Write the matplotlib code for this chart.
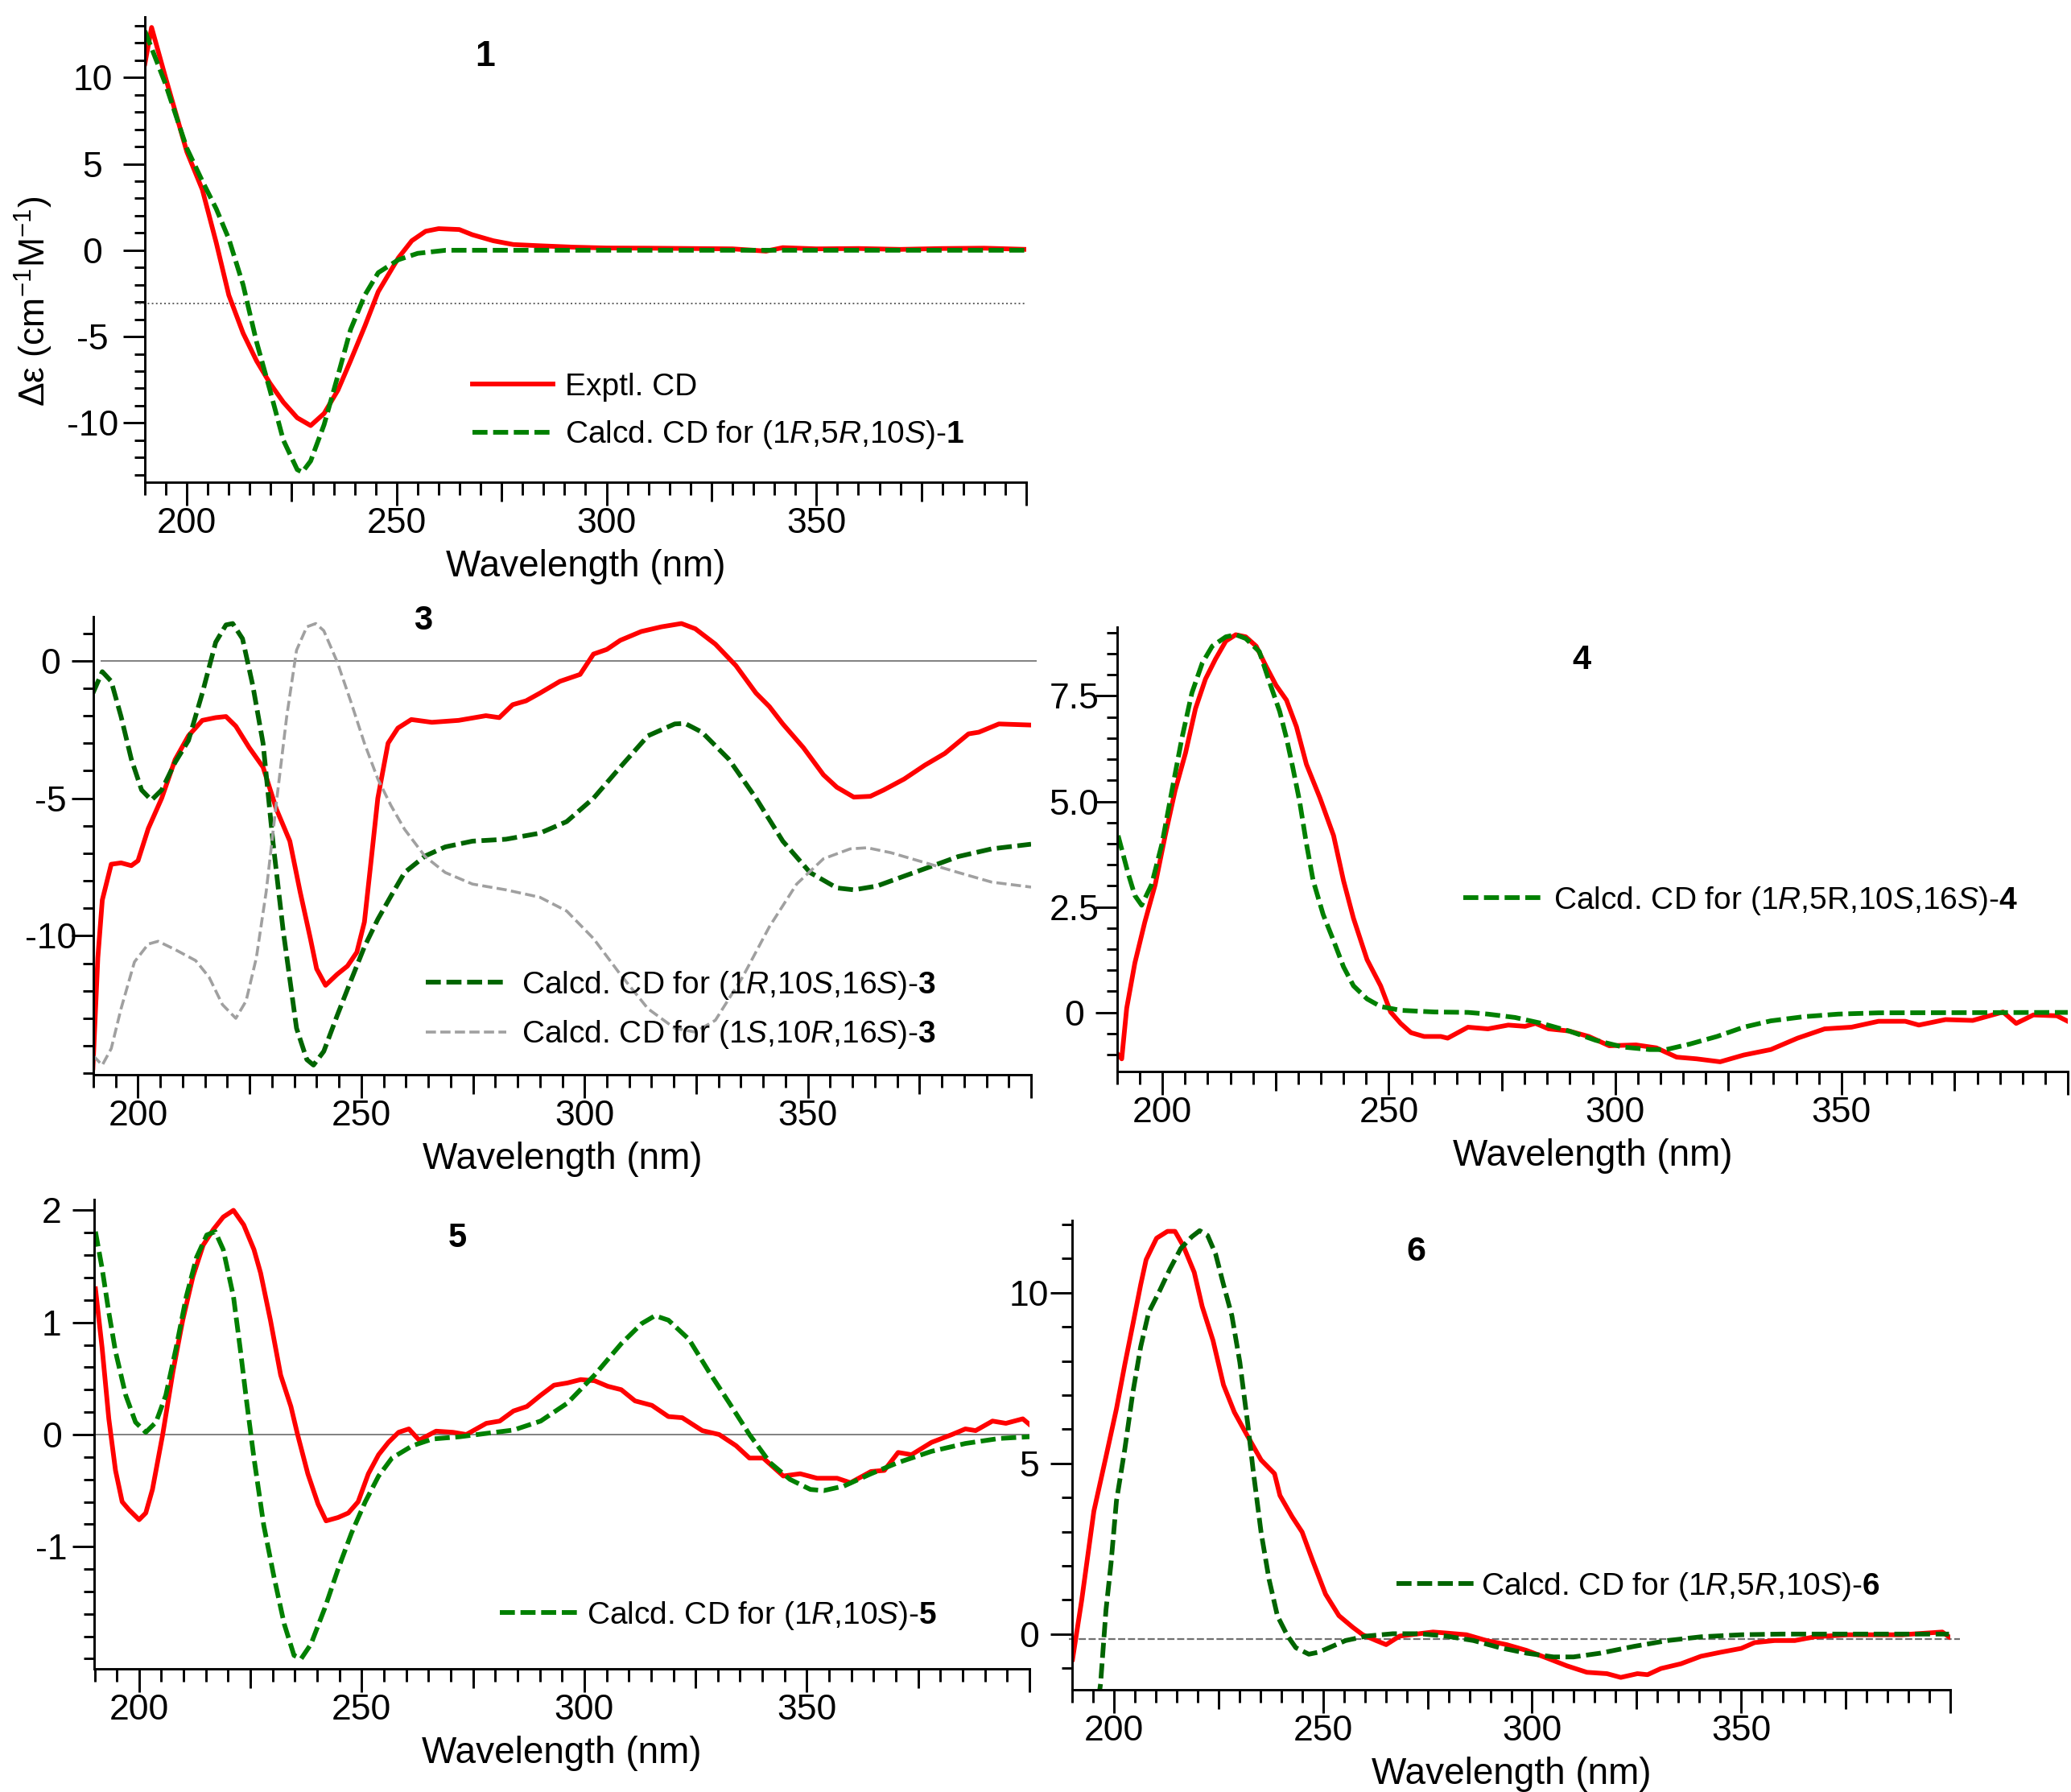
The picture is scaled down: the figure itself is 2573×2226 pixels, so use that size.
import matplotlib
matplotlib.use("Agg")
import matplotlib.pyplot as plt

plt.rcParams['font.family'] = 'Liberation Sans'
plt.rcParams['mathtext.fontset'] = 'custom'
plt.rcParams['mathtext.rm'] = 'Liberation Sans'
plt.rcParams['mathtext.it'] = 'Liberation Sans:italic'
plt.rcParams['mathtext.bf'] = 'Liberation Sans:bold'

RED = '#ff0000'
GREEN = '#008000'
DKGREEN = '#006400'
GRAY = '#a0a0a0'
DASH = (0, (3.2, 1.2))

# ---- compound 1 ----
wl1_exp = [190, 191.6, 194.8, 200, 203.7, 207, 210, 213.4, 216.6, 219.8, 223, 226.3, 229.5, 232.7,
           236, 239, 242.4, 245.6, 250.4, 253.6, 256.9, 260, 264.9, 268, 273, 277.8, 284, 292,
           300, 310, 320, 330, 338, 342, 350, 360, 370, 380, 390, 400]
cd1_exp = [10.8, 12.9, 10.1, 5.7, 3.5, 0.44, -2.6, -4.8, -6.4, -7.7, -8.8, -9.7, -10.15, -9.45,
           -8.1, -6.4, -4.4, -2.4, -0.44, 0.55, 1.1, 1.25, 1.2, 0.9, 0.55, 0.33, 0.26, 0.18,
           0.13, 0.12, 0.1, 0.08, -0.05, 0.15, 0.08, 0.1, 0.05, 0.1, 0.12, 0.05]
wl1_calc = [190, 194.8, 200, 203.7, 207, 210, 213.4, 216.6, 219.8, 223, 226.3, 227.5, 229.5,
            232.7, 236, 239, 242.4, 245.6, 250.4, 255, 261.7, 270, 300, 350, 400]
cd1_calc = [12.7, 9.7, 5.9, 4.0, 2.4, 0.66, -2.0, -5.3, -8.1, -11.0, -12.7, -12.85, -12.2,
            -10.1, -7.25, -4.6, -2.6, -1.3, -0.55, -0.18, 0.0, 0.0, 0.0, 0.0, 0.0]

# ---- compound 3 ----
wl3_exp = [189.9, 191, 192, 194, 196.2, 198.5, 200, 202.3, 205.3, 208.3, 211.3, 214.4, 217.4,
           219.7, 221.9, 224.9, 228, 231, 234, 236.3, 238.6, 240, 242, 244.6, 246.9, 249, 250.7,
           252.2, 253.7, 256, 258.2, 261.2, 265.8, 271.8, 277.9, 280.9, 283.9, 286.9, 290,
           294.5, 299, 302, 305, 308, 312.7, 317.2, 321.7, 324.8, 329.3, 333.9, 338.4, 341.4,
           344.4, 349, 353.5, 356.5, 360.3, 364, 367, 371.6, 376.2, 380.7, 386, 388.3, 392.8, 400]
cd3_exp = [-14.8, -10.8, -8.7, -7.4, -7.35, -7.45, -7.27, -6.1, -5.0, -3.6, -2.73, -2.17, -2.07,
           -2.03, -2.38, -3.16, -3.87, -5.4, -6.56, -8.4, -10.1, -11.2, -11.8, -11.4, -11.1, -10.6,
           -9.5, -7.27, -5.0, -3.0, -2.45, -2.14, -2.24, -2.17, -2.0, -2.07, -1.6, -1.46, -1.18,
           -0.75, -0.5, 0.24, 0.41, 0.74, 1.06, 1.23, 1.35, 1.16, 0.6, -0.18, -1.18, -1.67,
           -2.3, -3.16, -4.15, -4.6, -4.96, -4.93, -4.7, -4.3, -3.8, -3.37, -2.66, -2.6, -2.3, -2.34]
wl3_calc_a = [189.9, 192, 194, 196.2, 198.5, 200.8, 203, 205.3, 208.3, 211.3, 214.4, 217.4,
              219.7, 221.2, 223.4, 225.7, 228, 230.2, 232.5, 235.5, 237.8, 239.3, 241.6, 244.6,
              247.6, 250.7, 253.7, 256.7, 259.7, 264.3, 268.8, 274.9, 282.4, 290, 296, 302, 308,
              314.2, 320.2, 322.5, 326.3, 332.3, 338.4, 344.4, 350.5, 356.5, 360.3, 365.5, 371.6,
              377.6, 383.7, 391.2, 400]
cd3_calc_a = [-1.18, -0.4, -0.75, -2.03, -3.58, -4.7, -5.07, -4.7, -3.7, -2.9, -1.18, 0.67,
              1.3, 1.35, 0.8, -0.9, -3.0, -6.56, -9.8, -13.36, -14.5, -14.7, -14.2, -12.9,
              -11.66, -10.4, -9.4, -8.54, -7.7, -7.1, -6.77, -6.56, -6.49, -6.27, -5.85, -5.0, -3.87,
              -2.73, -2.3, -2.28, -2.6, -3.58, -5.0, -6.56, -7.7, -8.26, -8.33, -8.19, -7.83,
              -7.48, -7.12, -6.84, -6.67]
wl3_calc_b = [189.9, 192, 194, 196.2, 199.2, 202.3, 204.5, 208.3, 212.9, 215.9, 218.9, 221.9,
              224.2, 226.5, 228.7, 231, 233.3, 235.5, 237.8, 239.8, 241.6, 244.6, 247.6, 250.7,
              253.7, 256.7, 259.7, 264.3, 268.8, 274.9, 282.4, 290, 296, 302, 308, 314.2, 320.2,
              324.8, 329.3, 335.4, 341.4, 347.5, 353.5, 359.5, 363.3, 368.6, 376.2, 383.7, 391.2, 400]
cd3_calc_b = [-14.35, -14.7, -14.1, -12.65, -10.95, -10.3, -10.2, -10.5, -10.9, -11.5, -12.5, -13.0,
              -12.37, -10.8, -8.4, -5.14, -2.03, 0.38, 1.23, 1.35, 1.09, -0.04, -1.46, -3.0,
              -4.3, -5.28, -6.13, -7.12, -7.7, -8.12, -8.33, -8.6, -9.1, -10.1, -11.4, -12.65, -13.36,
              -13.5, -13.07, -11.5, -9.67, -8.12, -7.2, -6.84, -6.8, -6.98, -7.34, -7.7, -8.05, -8.23]

# ---- compound 4 ----
wl4_exp = [190.2, 191, 192.1, 193.9, 196.1, 198.4, 200.6, 202.8, 205.1, 207.3, 209.5, 211.7, 214,
           216.2, 218.4, 220.7, 222.9, 225.1, 227.4, 229.6, 231.8, 234.8, 237.8, 240, 242.2,
           245.2, 248.2, 250.4, 252.6, 254.9, 257.8, 261.5, 263, 267.5, 271.9, 276.4, 280.1,
           282.4, 285.3, 289.8, 294.2, 298.7, 304.6, 309.1, 313.6, 318, 323.2, 328.4, 334.4,
           340.3, 346.3, 352.2, 358.2, 364.1, 367.1, 373, 379, 385.7, 388.6, 392.4, 397.6, 400]
cd4_exp = [-1.0, -1.1, 0.1, 1.17, 2.14, 3.03, 4.19, 5.26, 6.15, 7.2, 7.9, 8.37, 8.8,
           8.95, 8.9, 8.68, 8.2, 7.75, 7.4, 6.77, 5.88, 5.08, 4.19, 3.12, 2.23,
           1.25, 0.63, 0.01, -0.26, -0.48, -0.57, -0.57, -0.61, -0.35, -0.39, -0.3, -0.33,
           -0.26, -0.39, -0.44, -0.57, -0.79, -0.77, -0.84, -1.06, -1.1, -1.17, -1.01, -0.88,
           -0.61, -0.39, -0.35, -0.21, -0.21, -0.3, -0.17, -0.19, 0.01, -0.26, -0.06, -0.08, -0.21]
wl4_calc = [190.2, 192.4, 193.9, 195.4, 197.6, 199.9, 202.1, 204.3, 206.5, 208.8, 211, 214,
            216.2, 218.4, 221.4, 223.6, 225.9, 227.4, 228.8, 230.3, 231.8, 233.3, 235.5, 237.8,
            240, 242.2, 245.2, 248.2, 252.6, 260.1, 267.5, 271.9, 277.9, 283.8, 289.8, 295.7,
            301.7, 307.6, 311.3, 316.5, 322.5, 328.4, 334.4, 341.8, 349.3, 358.2, 400]
cd4_calc = [4.19, 3.3, 2.77, 2.54, 3.03, 4.0, 5.26, 6.5, 7.57, 8.28, 8.68, 8.9,
            8.95, 8.86, 8.55, 7.84, 7.13, 6.5, 5.8, 5.0, 4.0, 3.12, 2.32, 1.7,
            1.08, 0.63, 0.32, 0.14, 0.05, 0.01, 0.0, -0.04, -0.12, -0.26, -0.44, -0.66,
            -0.82, -0.88, -0.88, -0.75, -0.57, -0.35, -0.2, -0.1, -0.04, -0.01, 0.0]

# ---- compound 5 ----
wl5_exp = [190.2, 191.7, 193.2, 194.7, 196.2, 197.7, 200, 201.5, 203, 205.3, 207.6, 209.8, 212.1,
           214.4, 216.7, 218.9, 221.2, 223.5, 225.8, 227.3, 229.5, 231.8, 234.1, 235.6, 237.9,
           240.2, 242, 244.7, 247, 249.2, 251.5, 253.8, 256, 258.3, 260.6, 262.9, 266.7, 270.5,
           273.5, 278, 281, 284.1, 287.1, 290.2, 293.2, 296.2, 299.2, 302.3, 305.3, 308.3,
           311.4, 315.2, 318.9, 322, 326.5, 330.3, 334.1, 337.1, 340.2, 344.7, 348.5, 352.3,
           356.8, 359.8, 364.4, 367.4, 370.5, 373.5, 378, 382.6, 385.6, 387.9, 391.7, 394.7, 398.5, 400]
cd5_exp = [1.3, 0.77, 0.14, -0.32, -0.6, -0.67, -0.76, -0.7, -0.49, 0.0, 0.56, 1.02, 1.41,
           1.69, 1.83, 1.94, 2.0, 1.87, 1.65, 1.44, 1.02, 0.53, 0.25, 0.0, -0.35,
           -0.62, -0.77, -0.74, -0.7, -0.6, -0.35, -0.18, -0.07, 0.02, 0.05, -0.05, 0.03, 0.02,
           0.0, 0.1, 0.12, 0.21, 0.25, 0.35, 0.44, 0.46, 0.49, 0.48, 0.43, 0.4,
           0.3, 0.26, 0.16, 0.15, 0.035, 0.0, -0.1, -0.21, -0.21, -0.37, -0.35, -0.39,
           -0.39, -0.43, -0.33, -0.32, -0.16, -0.18, -0.07, 0.0, 0.05, 0.035, 0.12, 0.1, 0.14, 0.09]
wl5_calc = [190.2, 191.7, 193.2, 194.7, 197, 199.2, 201.5, 203.8, 206, 208.3, 210.6, 212.9, 215.2,
            217.1, 218.9, 221.2, 222.7, 224.2, 225.8, 228, 230.3, 232.6, 234.8, 236.4, 238.6,
            241.7, 244.7, 247.7, 250.8, 253.8, 256.8, 261.4, 265.9, 272, 278, 284.1, 290.2,
            296.2, 302.3, 308.3, 312.9, 315.9, 318.9, 323.5, 328, 332.6, 337.1, 341.7, 346.2,
            350.8, 353.8, 358.3, 364.4, 370.5, 378, 385.6, 393.2, 400]
cd5_calc = [1.81, 1.48, 1.09, 0.74, 0.35, 0.11, 0.02, 0.11, 0.35, 0.77, 1.23, 1.58, 1.78,
            1.81, 1.65, 1.23, 0.77, 0.28, -0.21, -0.81, -1.27, -1.69, -1.97, -2.0, -1.87,
            -1.55, -1.2, -0.88, -0.6, -0.37, -0.21, -0.1, -0.04, -0.02, 0.01, 0.04, 0.12,
            0.28, 0.53, 0.81, 0.99, 1.06, 1.02, 0.85, 0.56, 0.28, 0.0, -0.25, -0.4,
            -0.49, -0.5, -0.46, -0.35, -0.25, -0.15, -0.08, -0.035, -0.02]

# ---- compound 6 ----
wl6_exp = [190.1, 192.3, 195.2, 198.1, 200.6, 202.6, 204.5, 206.4, 207.7, 209, 210.2, 212.8,
           214.6, 216.6, 219.2, 221.1, 223.7, 226.2, 228.8, 232, 235.2, 238.4, 239.7, 242.6,
           245, 247.4, 250.6, 253.8, 257.1, 259.5, 262.7, 265.1, 268.3, 272.3, 276.3, 279.5,
           284.3, 289.1, 293.9, 298.7, 303.5, 308.3, 313.1, 317.9, 321.2, 325.2, 327.6, 330.8,
           335.6, 340.4, 345.2, 350, 353.2, 358, 362.8, 367.6, 375.6, 388.5, 398.1, 399.7]
cd6_exp = [-0.74, 1.0, 3.6, 5.2, 6.6, 7.9, 9.06, 10.24, 10.97, 11.3, 11.6, 11.8,
           11.8, 11.37, 10.6, 9.6, 8.6, 7.3, 6.5, 5.79, 5.1, 4.7, 4.06, 3.44,
           2.99, 2.19, 1.17, 0.54, 0.2, -0.02, -0.19, -0.31, -0.06, 0.0, 0.06, 0.03,
           -0.02, -0.19, -0.31, -0.48, -0.7, -0.93, -1.12, -1.16, -1.27, -1.16, -1.19, -1.01,
           -0.87, -0.65, -0.53, -0.42, -0.25, -0.19, -0.19, -0.08, -0.02, -0.02, 0.06, -0.08]
wl6_calc = [196.3, 196.8, 198.1, 199.3, 200.6, 202.6, 204.5, 206.4, 208.3, 210.9, 213.4, 216,
            218.6, 220.5, 222.4, 224.3, 226.2, 228.2, 230.1, 232, 233.3, 235.2, 237.1, 239.1,
            241.5, 243.5, 246.6, 249, 252.2, 255.4, 260.3, 266.7, 273.1, 279.5, 286, 292.3,
            298.7, 305.1, 309.9, 316.3, 324.4, 332.4, 340.4, 350, 359.6, 399.7]
cd6_calc = [-1.9, -1.46, 0.71, 2.07, 3.9, 5.42, 7.06, 8.42, 9.42, 10.05, 10.7, 11.3,
            11.64, 11.82, 11.68, 11.14, 10.24, 9.33, 7.97, 6.16, 4.79, 2.97, 1.6, 0.53,
            -0.05, -0.4, -0.59, -0.53, -0.36, -0.19, -0.06, 0.01, 0.01, -0.06, -0.19, -0.4,
            -0.56, -0.67, -0.67, -0.56, -0.36, -0.19, -0.08, -0.02, 0.0, 0.0]

W, H = 2573, 2226
fig = plt.figure(figsize=(W / 100, H / 100), dpi=100)


def make_axes(x0, y0, x1, y1):
    ax = fig.add_axes([x0 / W, 1 - y1 / H, (x1 - x0) / W, (y1 - y0) / H])
    ax.hpx = y1 - y0
    return ax


def style(ax, ylim, ymajor, yminor, ylabels=None, ypad=19):
    ax.set_xlim(190, 400)
    ax.set_ylim(*ylim)
    for s in ('top', 'right'):
        ax.spines[s].set_visible(False)
    for s in ('left', 'bottom'):
        ax.spines[s].set_linewidth(2.1)
    ax.set_xticks([200, 250, 300, 350, 400], ['200', '250', '300', '350', ''])
    ax.set_xticks(range(190, 401, 5), minor=True)
    if ylabels is None:
        ylabels = [('%g' % v) for v in ymajor]
    ax.set_yticks(ymajor, ylabels)
    ax.set_yticks(yminor, minor=True)
    ax.tick_params(axis='x', which='major', length=20.9, width=2.1, labelsize=32, pad=1.5)
    ax.tick_params(axis='x', which='minor', length=11.5, width=2.1)
    ax.tick_params(axis='y', which='major', length=19.4, width=2.1, labelsize=32, pad=ypad)
    ax.tick_params(axis='y', which='minor', length=9.7, width=2.1)
    plt.setp(ax.get_yticklabels(), ha='center')
    sec = ax.secondary_xaxis('bottom')
    sec.set_xticks([225, 275, 325, 375], [''] * 4)
    sec.tick_params(length=17.3, width=2.1)
    sec.spines['bottom'].set_visible(False)
    ax.set_xlabel('Wavelength (nm)', fontsize=33)
    ax.xaxis.set_label_coords(0.5, -105 / ax.hpx)
    ax.xaxis.label.set_va('center')


def legend(ax, handles, x_px, y_px, gap=0.35):
    ax.legend(handles=handles, loc='center left', bbox_to_anchor=(x_px / W, 1 - y_px / H),
              bbox_transform=fig.transFigure, frameon=False, fontsize=28,
              handlelength=2.57, handletextpad=gap, borderpad=0, borderaxespad=0,
              labelspacing=0.55)


# panel 1
ax1 = make_axes(180, 21, 1275, 599)
ax1.axhline(-3.1, xmin=-0.011, xmax=1.0, color='#606060', lw=1.4, ls=':', clip_on=False)
r1, = ax1.plot(wl1_exp, cd1_exp, color=RED, lw=4.2, label='Exptl. CD')
g1, = ax1.plot(wl1_calc, cd1_calc, color=GREEN, lw=4.2, ls=DASH,
               label=r'Calcd. CD for (1$\it{R}$,5$\it{R}$,10$\it{S}$)-$\bf{1}$')
style(ax1, (-13.43, 13.51), [-10, -5, 0, 5, 10], range(-13, 14), ypad=27.4)
ax1.text(271, 11.2, '1', fontsize=32, fontweight='bold', ha='center', va='center')
ax1.set_ylabel('Δε (cm$^{-1}$M$^{-1}$)', fontsize=32)
ax1.yaxis.set_label_coords(-0.126, 0.389)
ax1.yaxis.label.set_va('center')
legend(ax1, [r1, g1], 587, 511.5, gap=0.4)

# panel 3
ax3 = make_axes(116, 766, 1281, 1335)
ax3.axhline(0, xmin=0.009, xmax=1.005, color='#808080', lw=1.4, clip_on=False)
ax3.plot(wl3_exp, cd3_exp, color=RED, lw=4.2)
g3a, = ax3.plot(wl3_calc_a, cd3_calc_a, color=DKGREEN, lw=4.2, ls=DASH,
                label=r'Calcd. CD for (1$\it{R}$,10$\it{S}$,16$\it{S}$)-$\bf{3}$')
g3b, = ax3.plot(wl3_calc_b, cd3_calc_b, color=GRAY, lw=2.6, ls=(0, (3.5, 1.5)),
                label=r'Calcd. CD for (1$\it{S}$,10$\it{R}$,16$\it{S}$)-$\bf{3}$')
style(ax3, (-15.05, 1.6), [-10, -5, 0], range(-15, 2))
ax3.text(263.8, 1.45, '3', fontsize=30, fontweight='bold', ha='center', va='center')
legend(ax3, [g3a, g3b], 529, 1254.5, gap=0.5)

# panel 4
ax4 = make_axes(1388, 779, 2569, 1331)
ax4.plot(wl4_exp, cd4_exp, color=RED, lw=4.2)
g4, = ax4.plot(wl4_calc, cd4_calc, color=GREEN, lw=4.2, ls=DASH,
               label=r'Calcd. CD for (1$\it{R}$,5R,10$\it{S}$,16$\it{S}$)-$\bf{4}$')
style(ax4, (-1.4, 9.13), [0, 2.5, 5.0, 7.5], [v * 0.5 for v in range(-2, 19)],
      ylabels=['0', '2.5', '5.0', '7.5'])
ax4.text(292.6, 8.35, '4', fontsize=30, fontweight='bold', ha='center', va='center')
legend(ax4, [g4], 1818, 1119, gap=0.3)

# panel 5
ax5 = make_axes(117.5, 1489.5, 1279, 2073)
ax5.axhline(0, color='#808080', lw=1.4)
ax5.plot(wl5_exp, cd5_exp, color=RED, lw=4.2)
g5, = ax5.plot(wl5_calc, cd5_calc, color=GREEN, lw=4.2, ls=DASH,
               label=r'Calcd. CD for (1$\it{R}$,10$\it{S}$)-$\bf{5}$')
style(ax5, (-2.09, 2.10), [-1, 0, 1, 2], [v * 0.2 for v in range(-10, 11)])
ax5.text(271.5, 1.755, '5', fontsize=30, fontweight='bold', ha='center', va='center')
legend(ax5, [g5], 621, 2007, gap=0.2)

# panel 6
ax6 = make_axes(1332, 1516, 2423, 2098.5)
ax6.axhline(-0.14, xmin=-0.004, xmax=1.011, color='#707070', lw=1.6,
            ls=(0, (4, 1.5)), clip_on=False)
ax6.plot(wl6_exp, cd6_exp, color=RED, lw=4.2)
g6, = ax6.plot(wl6_calc, cd6_calc, color=DKGREEN, lw=4.2, ls=DASH,
               label=r'Calcd. CD for (1$\it{R}$,5$\it{R}$,10$\it{S}$)-$\bf{6}$')
style(ax6, (-1.62, 12.12), [0, 5, 10], range(-1, 13))
ax6.text(272.3, 11.2, '6', fontsize=31, fontweight='bold', ha='center', va='center')
legend(ax6, [g6], 1734.5, 1971, gap=0.13)

fig.savefig('out.png', dpi=100)
